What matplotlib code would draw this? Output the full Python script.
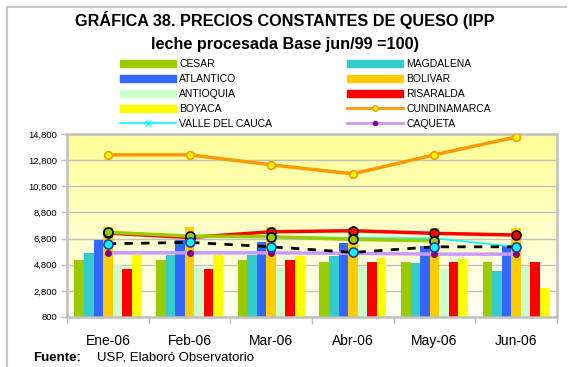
import numpy as np
import matplotlib
matplotlib.use("Agg")
import matplotlib.pyplot as plt
from matplotlib.patches import Patch
from matplotlib.lines import Line2D

plt.rcParams['font.family'] = ['Liberation Sans', 'DejaVu Sans']

# Months
meses = ["Ene-06", "Feb-06", "Mar-06", "Abr-06", "May-06", "Jun-06"]

# Bar series (constant prices)
cesar = [5150, 5150, 5150, 5000, 5000, 5000]
magdalena = [5710, 5540, 5540, 5460, 4920, 4310]
atlantico = [6690, 6690, 6510, 6430, 6230, 6230]
bolivar = [7660, 7660, 7660, 7590, 7590, 7590]
antioquia = [4770, 4560, 4560, 4710, 4440, 4710]
risaralda = [4460, 4460, 5150, 5000, 5000, 5000]
boyaca = [5540, 5540, 5480, 5330, 5230, 3030]

# Line series
cundinamarca = [13210, 13210, 12440, 11750, 13210, 14570]
valle_del_cauca = [7280, 6990, 6940, 6850, 6820, 6170]
caqueta = [5710, 5710, 5710, 5670, 5610, 5610]
serie_roja = [7220, 6880, 7320, 7400, 7200, 7070]
serie_verde = [7280, 6990, 6940, 6740, 6630, np.nan]
serie_promedio = [6400, 6510, 6170, 5740, 6170, 6170]

yticks = list(range(800, 14801, 2000))

bar_series = [
    ("CESAR", cesar, "#99CC00"),
    ("MAGDALENA", magdalena, "#33CCCC"),
    ("ATLANTICO", atlantico, "#3366FF"),
    ("BOLIVAR", bolivar, "#FFCC00"),
    ("ANTIOQUIA", antioquia, "#CCFFCC"),
    ("RISARALDA", risaralda, "#FF0000"),
    ("BOYACA", boyaca, "#FFFF00"),
]

W, H = 570, 367
fig = plt.figure(figsize=(W / 100, H / 100), dpi=100)
fig.patch.set_facecolor("white")

# outer frame (top and left edges)
fig.add_artist(Line2D([7 / W, 7 / W], [0, 1 - 7 / H], color="#C8C8C8", lw=1.5,
                      transform=fig.transFigure))
fig.add_artist(Line2D([7 / W, 566 / W], [1 - 7 / H, 1 - 7 / H], color="#C8C8C8", lw=1.5,
                      transform=fig.transFigure))

left, right, top, bottom = 67, 557, 134, 317
ax = fig.add_axes([left / W, 1 - bottom / H, (right - left) / W, (bottom - top) / H])

x = np.arange(len(meses))
ax.set_xlim(-0.5, len(meses) - 0.5)
ax.set_ylim(800, 14800)

# gradient background of the plot area
grad = np.linspace(0, 1, 256)[:, None]
top_c = np.array([255, 255, 150]) / 255
bot_c = np.array([255, 255, 246]) / 255
img = top_c[None, None, :] * (1 - grad[:, :, None]) + bot_c[None, None, :] * grad[:, :, None]
ax.imshow(img, extent=[-0.5, len(meses) - 0.5, 800, 14800], aspect="auto",
          zorder=0, origin="upper")

ax.set_axisbelow(True)
ax.yaxis.grid(True, color="#C0C0C0", lw=1)

bw = 0.117
for i, (name, vals, col) in enumerate(bar_series):
    ax.bar(x + (i - 3) * bw, vals, width=bw, color=col, zorder=2, label=name)

ax.plot(x, cundinamarca, color="#FF9900", lw=2.5, marker="o", ms=5.5,
        mfc="#FFFF00", mec="#FF9900", mew=1.2, zorder=3)
ax.plot(x, valle_del_cauca, color="#00FFFF", lw=1.2, marker="x", ms=5,
        mec="#00FFFF", mew=1.2, zorder=3)
ax.plot(x, caqueta, color="#CC99FF", lw=2.5, marker="o", ms=4,
        mfc="#800080", mec="#800080", zorder=3)
ax.plot(x, serie_roja, color="#FF0000", lw=2.5, marker="o", ms=6.5,
        mfc="#FF0000", mec="#000000", mew=1.2, zorder=4)
ax.plot(x, serie_verde, color="#99CC00", lw=2.5, marker="o", ms=6.5,
        mfc="#99CC00", mec="#000000", mew=1.2, zorder=5)
ax.plot(x, serie_promedio, color="#000000", lw=2, ls=(0, (3, 3)), marker="o", ms=6.5,
        mfc="#00FFFF", mec="#333399", mew=1.2, zorder=6)

for s in ax.spines.values():
    s.set_color("#C0C0C0")
    s.set_linewidth(1.8)

ax.set_yticks(yticks)
ax.set_yticklabels([f"{v:,}" for v in yticks], fontsize=6.8)
ax.tick_params(axis="y", length=4, color="#C0C0C0", width=1, pad=3)

ax.set_xticks(x)
ax.set_xticklabels(meses, fontsize=10)
ax.tick_params(axis="x", length=0, pad=12)
ax.set_xticks(np.arange(-0.5, len(meses), 1), minor=True)
ax.tick_params(axis="x", which="minor", length=5, color="#C0C0C0", width=1)

# title
fig.text(0.5, 1 - 20 / H, "GRÁFICA 38. PRECIOS CONSTANTES DE QUESO (IPP",
         ha="center", va="center", fontsize=11.7, fontweight="bold")
fig.text(0.5, 1 - 45 / H, "leche procesada Base jun/99 =100)",
         ha="center", va="center", fontsize=11.7, fontweight="bold")

# legend (two columns)
col1 = [
    (Patch(color="#99CC00"), "CESAR"),
    (Patch(color="#3366FF"), "ATLANTICO"),
    (Patch(color="#CCFFCC"), "ANTIOQUIA"),
    (Patch(color="#FFFF00"), "BOYACA"),
    (Line2D([], [], color="#00FFFF", lw=1.2, marker="x", ms=5, mec="#00FFFF"),
     "VALLE DEL CAUCA"),
]
col2 = [
    (Patch(color="#33CCCC"), "MAGDALENA"),
    (Patch(color="#FFCC00"), "BOLIVAR"),
    (Patch(color="#FF0000"), "RISARALDA"),
    (Line2D([], [], color="#FF9900", lw=2, marker="o", ms=4, mfc="#FFFF00", mec="#FF9900"),
     "CUNDINAMARCA"),
    (Line2D([], [], color="#CC99FF", lw=2, marker="o", ms=3, mfc="#800080", mec="#800080"),
     "CAQUETA"),
]
for items, xl in ((col1, 120), (col2, 347)):
    fig.legend([h for h, _ in items], [t for _, t in items], loc="upper left",
               bbox_to_anchor=(xl / W, 1 - 59 / H), frameon=False, borderpad=0,
               borderaxespad=0, fontsize=7.5, handlelength=5.4, handleheight=0.7,
               handletextpad=0.3, labelspacing=0.48, numpoints=1)

# source note
fig.text(33 / W, 1 - 358 / H, "Fuente:", fontsize=9.5, fontweight="bold", va="center")
fig.text(97 / W, 1 - 358 / H, "USP, Elaboró Observatorio", fontsize=9.5, va="center")

fig.savefig("out.png", dpi=100)
